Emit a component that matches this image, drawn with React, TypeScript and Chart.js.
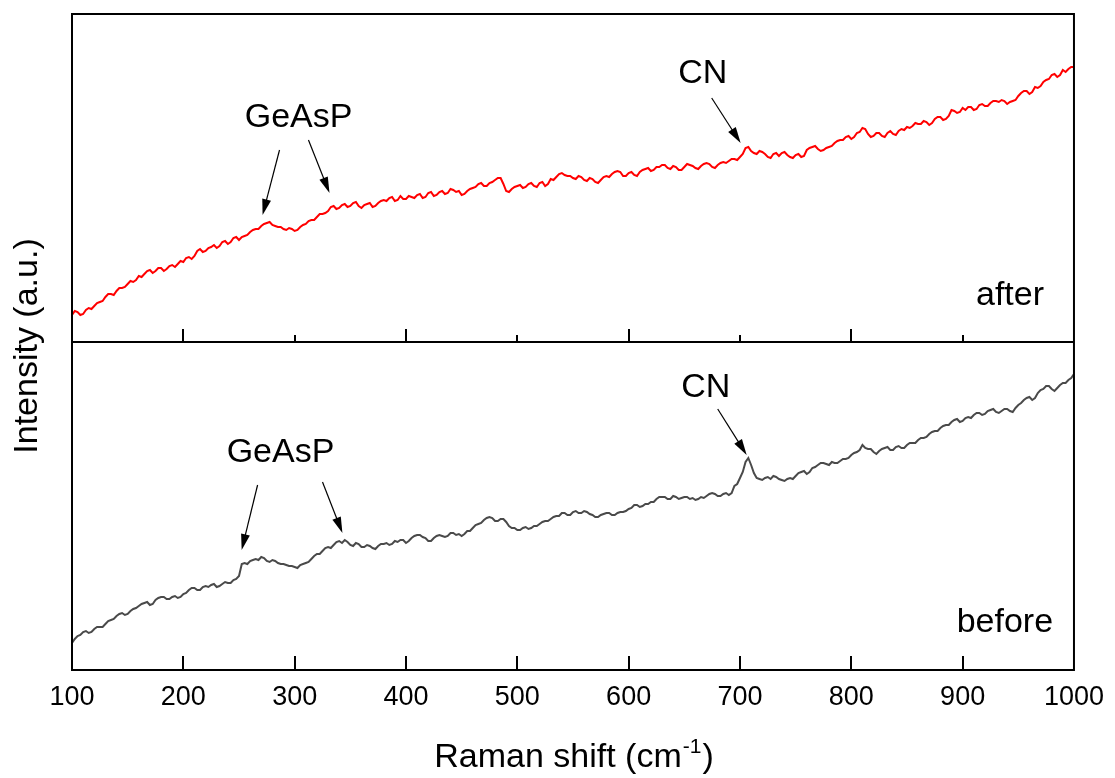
import { useEffect, useRef } from 'react';
import { Chart, registerables } from 'chart.js';

Chart.register(...registerables);

const FONT = '"Liberation Sans", Arial, Helvetica, sans-serif';

// Raman shift (cm^-1)
const ramanShift = [
  100, 102.5, 105, 107.5, 110, 112.5, 115, 117.5, 120, 122.5, 125, 127.5, 130, 132.5, 135, 137.5, 140, 142.5, 145, 147.5,
  150, 152.5, 155, 157.5, 160, 162.5, 165, 167.5, 170, 172.5, 175, 177.5, 180, 182.5, 185, 187.5, 190, 192.5, 195, 197.5,
  200, 202.5, 205, 207.5, 210, 212.5, 215, 217.5, 220, 222.5, 225, 227.5, 230, 232.5, 235, 237.5, 240, 242.5, 245, 247.5,
  250, 252.5, 255, 257.5, 260, 262.5, 265, 267.5, 270, 272.5, 275, 277.5, 280, 282.5, 285, 287.5, 290, 292.5, 295, 297.5,
  300, 302.5, 305, 307.5, 310, 312.5, 315, 317.5, 320, 322.5, 325, 327.5, 330, 332.5, 335, 337.5, 340, 342.5, 345, 347.5,
  350, 352.5, 355, 357.5, 360, 362.5, 365, 367.5, 370, 372.5, 375, 377.5, 380, 382.5, 385, 387.5, 390, 392.5, 395, 397.5,
  400, 402.5, 405, 407.5, 410, 412.5, 415, 417.5, 420, 422.5, 425, 427.5, 430, 432.5, 435, 437.5, 440, 442.5, 445, 447.5,
  450, 452.5, 455, 457.5, 460, 462.5, 465, 467.5, 470, 472.5, 475, 477.5, 480, 482.5, 485, 487.5, 490, 492.5, 495, 497.5,
  500, 502.5, 505, 507.5, 510, 512.5, 515, 517.5, 520, 522.5, 525, 527.5, 530, 532.5, 535, 537.5, 540, 542.5, 545, 547.5,
  550, 552.5, 555, 557.5, 560, 562.5, 565, 567.5, 570, 572.5, 575, 577.5, 580, 582.5, 585, 587.5, 590, 592.5, 595, 597.5,
  600, 602.5, 605, 607.5, 610, 612.5, 615, 617.5, 620, 622.5, 625, 627.5, 630, 632.5, 635, 637.5, 640, 642.5, 645, 647.5,
  650, 652.5, 655, 657.5, 660, 662.5, 665, 667.5, 670, 672.5, 675, 677.5, 680, 682.5, 685, 687.5, 690, 692.5, 695, 697.5,
  700, 702.5, 705, 707.5, 710, 712.5, 715, 717.5, 720, 722.5, 725, 727.5, 730, 732.5, 735, 737.5, 740, 742.5, 745, 747.5,
  750, 752.5, 755, 757.5, 760, 762.5, 765, 767.5, 770, 772.5, 775, 777.5, 780, 782.5, 785, 787.5, 790, 792.5, 795, 797.5,
  800, 802.5, 805, 807.5, 810, 812.5, 815, 817.5, 820, 822.5, 825, 827.5, 830, 832.5, 835, 837.5, 840, 842.5, 845, 847.5,
  850, 852.5, 855, 857.5, 860, 862.5, 865, 867.5, 870, 872.5, 875, 877.5, 880, 882.5, 885, 887.5, 890, 892.5, 895, 897.5,
  900, 902.5, 905, 907.5, 910, 912.5, 915, 917.5, 920, 922.5, 925, 927.5, 930, 932.5, 935, 937.5, 940, 942.5, 945, 947.5,
  950, 952.5, 955, 957.5, 960, 962.5, 965, 967.5, 970, 972.5, 975, 977.5, 980, 982.5, 985, 987.5, 990, 992.5, 995, 997.5,
  1000,
];

// Intensity (a.u.), upper panel ("after")
const afterIntensity = [
  27, 31, 30, 27, 28, 32, 34, 33, 36, 39, 40, 41, 45, 48, 48, 47, 51, 54, 54, 55,
  58, 61, 60, 62, 66, 65, 68, 71, 72, 69, 71, 74, 74, 71, 73, 76, 77, 75, 78, 81,
  80, 84, 85, 83, 86, 91, 93, 90, 91, 94, 95, 97, 94, 96, 100, 101, 98, 100, 104, 105,
  102, 105, 106, 107, 110, 112, 113, 113, 116, 118, 119, 120, 117, 116, 115, 115, 113, 112, 114, 113,
  111, 112, 115, 117, 118, 121, 122, 122, 125, 128, 128, 129, 131, 135, 136, 133, 134, 137, 138, 135,
  136, 139, 140, 136, 134, 137, 138, 139, 135, 136, 139, 141, 142, 141, 144, 145, 141, 142, 146, 143,
  143, 146, 145, 144, 147, 148, 144, 145, 149, 150, 146, 147, 150, 151, 148, 149, 153, 152, 150, 151,
  147, 148, 151, 153, 154, 155, 158, 159, 156, 156, 159, 160, 162, 164, 164, 158, 151, 150, 153, 155,
  156, 157, 154, 155, 158, 159, 156, 155, 159, 160, 156, 158, 163, 162, 165, 168, 169, 167, 166, 166,
  164, 163, 166, 165, 162, 161, 164, 163, 160, 159, 162, 165, 166, 165, 168, 170, 171, 170, 166, 166,
  169, 170, 167, 166, 170, 172, 173, 174, 171, 172, 175, 175, 177, 177, 174, 173, 176, 175, 172, 172,
  175, 178, 177, 176, 174, 173, 176, 178, 179, 178, 175, 174, 177, 179, 180, 179, 181, 183, 183, 182,
  185, 188, 194, 195, 191, 189, 188, 191, 190, 188, 185, 184, 188, 189, 186, 189, 190, 187, 185, 184,
  187, 188, 185, 186, 192, 194, 195, 196, 193, 191, 192, 194, 195, 196, 199, 201, 202, 202, 205, 206,
  203, 205, 209, 210, 214, 213, 208, 205, 206, 209, 209, 206, 205, 209, 211, 208, 207, 211, 213, 212,
  215, 214, 216, 219, 218, 218, 221, 220, 217, 219, 223, 225, 225, 222, 223, 226, 232, 231, 229, 230,
  234, 232, 235, 235, 232, 233, 237, 238, 236, 236, 239, 241, 241, 240, 242, 241, 238, 240, 241, 242,
  246, 249, 251, 251, 248, 250, 255, 254, 256, 260, 262, 263, 267, 268, 265, 267, 272, 270, 273, 275,
  275,
];

// Intensity (a.u.), lower panel ("before")
const beforeIntensity = [
  1, 5, 8, 9, 12, 13, 11, 12, 15, 17, 17, 17, 20, 23, 24, 25, 28, 30, 31, 29,
  30, 33, 35, 36, 38, 40, 41, 42, 39, 40, 44, 46, 47, 47, 45, 45, 47, 48, 46, 47,
  50, 51, 54, 56, 56, 54, 54, 57, 58, 57, 59, 60, 57, 58, 60, 62, 61, 61, 64, 65,
  68, 80, 81, 80, 83, 84, 85, 84, 87, 86, 83, 82, 84, 83, 81, 80, 80, 79, 78, 78,
  77, 76, 79, 80, 81, 82, 85, 88, 90, 90, 93, 96, 97, 96, 99, 102, 103, 101, 104, 102,
  99, 98, 101, 100, 97, 97, 99, 98, 96, 95, 98, 100, 100, 101, 99, 100, 103, 102, 104, 104,
  101, 103, 106, 108, 109, 109, 107, 106, 103, 103, 106, 108, 109, 108, 107, 108, 111, 111, 109, 110,
  108, 110, 113, 113, 116, 119, 120, 121, 124, 126, 127, 126, 123, 123, 125, 125, 122, 118, 116, 116,
  114, 114, 116, 117, 115, 116, 118, 118, 120, 122, 123, 123, 125, 127, 128, 128, 131, 131, 129, 129,
  132, 133, 131, 131, 133, 132, 130, 129, 127, 127, 129, 130, 131, 131, 129, 129, 131, 132, 132, 133,
  135, 136, 139, 139, 137, 138, 140, 140, 142, 142, 145, 147, 147, 147, 145, 145, 148, 147, 145, 146,
  147, 147, 145, 146, 144, 145, 147, 146, 148, 150, 151, 150, 148, 148, 150, 151, 149, 151, 158, 160,
  166, 172, 182, 186, 179, 171, 166, 165, 164, 166, 167, 165, 168, 167, 165, 164, 163, 165, 166, 165,
  168, 171, 172, 173, 170, 172, 176, 177, 179, 181, 181, 180, 179, 182, 181, 181, 183, 185, 185, 186,
  189, 191, 192, 194, 199, 196, 195, 195, 192, 190, 193, 195, 196, 197, 194, 194, 197, 198, 196, 196,
  199, 201, 201, 201, 204, 206, 206, 207, 210, 212, 213, 213, 216, 218, 219, 219, 222, 224, 225, 222,
  223, 226, 227, 226, 229, 231, 231, 229, 230, 233, 234, 235, 232, 231, 233, 235, 235, 233, 232, 236,
  239, 241, 244, 246, 247, 244, 246, 251, 254, 255, 258, 258, 255, 253, 256, 259, 261, 261, 264, 266,
  270,
];

const xTickValues = [100, 200, 300, 400, 500, 600, 700, 800, 900, 1000];
const xTickLabels = ['100', '200', '300', '400', '500', '600', '700', '800', '900', '1000'];
const topMajorTicks = [200, 400, 600, 800];
const topMinorTicks = [300, 500, 700, 900];
const bottomTicks = [200, 300, 400, 500, 600, 700, 800, 900];

const xTitle = 'Raman shift (cm';
const xTitleSup = '-1';
const xTitleEnd = ')';
const yTitle = 'Intensity (a.u.)';

type Panel = 'top' | 'bottom';

const panelLabels: { panel: Panel; text: string; x: number; y: number }[] = [
  { panel: 'top', text: 'after', x: 973.1, y: 37 },
  { panel: 'bottom', text: 'before', x: 981.2, y: 12 },
];

const peakLabels: { panel: Panel; text: string; x: number; y: number }[] = [
  { panel: 'top', text: 'GeAsP', x: 303.5, y: 215 },
  { panel: 'top', text: 'CN', x: 666.5, y: 259 },
  { panel: 'bottom', text: 'GeAsP', x: 287.3, y: 182 },
  { panel: 'bottom', text: 'CN', x: 669.2, y: 247 },
];

const peakArrows: { panel: Panel; x1: number; y1: number; x2: number; y2: number }[] = [
  { panel: 'top', x1: 286.4, y1: 192, x2: 271.2, y2: 127 },
  { panel: 'top', x1: 312.4, y1: 202, x2: 331.3, y2: 149 },
  { panel: 'top', x1: 674.6, y1: 244, x2: 700.6, y2: 199 },
  { panel: 'bottom', x1: 266.7, y1: 159, x2: 252.4, y2: 94 },
  { panel: 'bottom', x1: 325, y1: 162, x2: 342.9, y2: 111 },
  { panel: 'bottom', x1: 680, y1: 235, x2: 706, y2: 189 },
];

function drawArrow(ctx: CanvasRenderingContext2D, x1: number, y1: number, x2: number, y2: number) {
  const dx = x2 - x1;
  const dy = y2 - y1;
  const len = Math.hypot(dx, dy);
  const ux = dx / len;
  const uy = dy / len;
  const headLen = 16;
  const headHalf = 4.5;
  const bx = x2 - ux * headLen;
  const by = y2 - uy * headLen;
  ctx.beginPath();
  ctx.moveTo(x1, y1);
  ctx.lineTo(bx + ux * 2, by + uy * 2);
  ctx.stroke();
  ctx.beginPath();
  ctx.moveTo(x2, y2);
  ctx.lineTo(bx - uy * headHalf, by + ux * headHalf);
  ctx.lineTo(bx + uy * headHalf, by - ux * headHalf);
  ctx.closePath();
  ctx.fill();
}

const decorPlugin = {
  id: 'decor',
  afterDraw(chart: any) {
    const { ctx, chartArea: a, scales } = chart;
    const xs = scales.x;
    const yt = scales.yTop;
    const yb = scales.yBot;
    const mid = Math.round(yt.getPixelForValue(0));
    const yOf = (p: Panel, v: number) => (p === 'top' ? yt : yb).getPixelForValue(v);

    ctx.save();
    // inward ticks
    ctx.strokeStyle = '#000';
    ctx.lineWidth = 2;
    ctx.beginPath();
    topMajorTicks.forEach((v) => {
      const px = Math.round(xs.getPixelForValue(v));
      ctx.moveTo(px, mid);
      ctx.lineTo(px, mid - 13);
    });
    topMinorTicks.forEach((v) => {
      const px = Math.round(xs.getPixelForValue(v));
      ctx.moveTo(px, mid);
      ctx.lineTo(px, mid - 7);
    });
    bottomTicks.forEach((v) => {
      const px = Math.round(xs.getPixelForValue(v));
      ctx.moveTo(px, a.bottom);
      ctx.lineTo(px, a.bottom - 14);
    });
    ctx.stroke();

    // frame
    ctx.strokeRect(a.left, a.top, a.right - a.left, a.bottom - a.top);
    ctx.beginPath();
    ctx.moveTo(a.left, mid);
    ctx.lineTo(a.right, mid);
    ctx.stroke();

    // arrows
    ctx.fillStyle = '#000';
    ctx.lineWidth = 1.2;
    peakArrows.forEach((ar) => {
      drawArrow(
        ctx,
        xs.getPixelForValue(ar.x1), yOf(ar.panel, ar.y1),
        xs.getPixelForValue(ar.x2), yOf(ar.panel, ar.y2),
      );
    });

    // annotation texts
    ctx.font = `34px ${FONT}`;
    ctx.textBaseline = 'alphabetic';
    ctx.textAlign = 'center';
    peakLabels.forEach((l) => {
      ctx.fillText(l.text, xs.getPixelForValue(l.x), yOf(l.panel, l.y));
    });
    ctx.textAlign = 'right';
    panelLabels.forEach((l) => {
      ctx.fillText(l.text, xs.getPixelForValue(l.x), yOf(l.panel, l.y));
    });

    // x title with superscript
    const cx = (a.left + a.right) / 2;
    const base = a.bottom + 97;
    ctx.textAlign = 'left';
    ctx.font = `34px ${FONT}`;
    const w1 = ctx.measureText(xTitle).width;
    const w3 = ctx.measureText(xTitleEnd).width;
    ctx.font = `21px ${FONT}`;
    const w2 = ctx.measureText(xTitleSup).width;
    const x0 = cx - (w1 + w2 + w3) / 2;
    ctx.font = `34px ${FONT}`;
    ctx.fillText(xTitle, x0, base);
    ctx.font = `21px ${FONT}`;
    ctx.fillText(xTitleSup, x0 + w1 + 1, base - 14);
    ctx.font = `34px ${FONT}`;
    ctx.fillText(xTitleEnd, x0 + w1 + w2 + 2, base);

    // y title
    ctx.save();
    ctx.translate(a.left - 35, (a.top + a.bottom) / 2 + 4);
    ctx.rotate(-Math.PI / 2);
    ctx.textAlign = 'center';
    ctx.fillText(yTitle, 0, 0);
    ctx.restore();

    ctx.restore();
  },
};

export default function App() {
  const canvasRef = useRef<HTMLCanvasElement | null>(null);

  useEffect(() => {
    const canvas = canvasRef.current;
    if (!canvas) return;
    const chart = new Chart(canvas, {
      type: 'line',
      data: {
        datasets: [
          {
            label: 'after',
            data: ramanShift.map((x, i) => ({ x, y: afterIntensity[i] })),
            yAxisID: 'yTop',
            borderColor: '#ff0000',
            borderWidth: 2,
            pointRadius: 0,
            tension: 0,
            fill: false,
          },
          {
            label: 'before',
            data: ramanShift.map((x, i) => ({ x, y: beforeIntensity[i] })),
            yAxisID: 'yBot',
            borderColor: '#4a4a4a',
            borderWidth: 2,
            pointRadius: 0,
            tension: 0,
            fill: false,
          },
        ],
      },
      options: {
        responsive: false,
        animation: false,
        devicePixelRatio: 1,
        layout: { padding: { left: 72, right: 39, top: 14, bottom: 0 } },
        plugins: {
          legend: { display: false },
          tooltip: { enabled: false },
        },
        scales: {
          x: {
            type: 'linear',
            position: 'bottom',
            min: 100,
            max: 1000,
            grid: { display: false, drawTicks: false },
            border: { display: false },
            afterBuildTicks: (s: any) => {
              s.ticks = xTickValues.map((v) => ({ value: v }));
            },
            afterFit: (s: any) => {
              s.height = 108;
            },
            ticks: {
              autoSkip: false,
              maxRotation: 0,
              minRotation: 0,
              padding: 11,
              color: '#000',
              font: { family: FONT, size: 27 },
              callback: (v: any) => {
                const i = xTickValues.indexOf(Number(v));
                return i >= 0 ? xTickLabels[i] : '';
              },
            },
          },
          yTop: {
            type: 'linear',
            display: false,
            min: -328,
            max: 328,
          },
          yBot: {
            type: 'linear',
            display: false,
            min: -26,
            max: 630,
          },
        },
      },
      plugins: [decorPlugin],
    } as any);
    return () => chart.destroy();
  }, []);

  return (
    <div style={{ position: 'fixed', left: 0, top: 0, width: 1115, height: 778, background: '#fff' }}>
      <canvas ref={canvasRef} width={1115} height={778} style={{ display: 'block' }} />
    </div>
  );
}
